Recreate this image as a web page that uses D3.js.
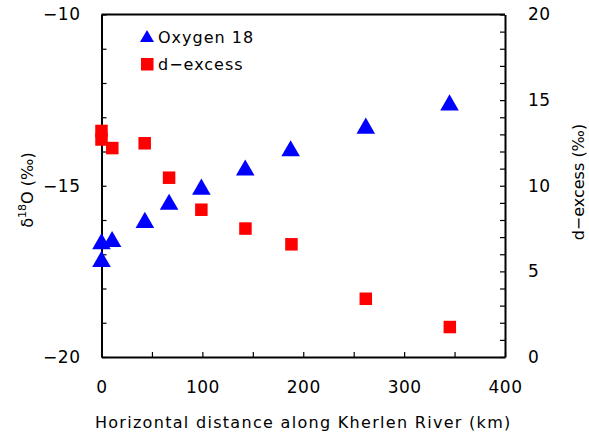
<!DOCTYPE html>
<html>
<head>
<meta charset="utf-8">
<script src="https://cdn.jsdelivr.net/npm/d3@7"></script>
<style>
  body { margin: 0; background: #fff; }
  svg text { font-family: "DejaVu Sans", sans-serif; fill: #000; }
</style>
</head>
<body>
<svg id="chart"></svg>
<script>
// distance along river (km)
const distO18 = [0, 0, 10.5, 43, 67, 99, 142.5, 187.5, 262, 345];
const o18 = [-16.65, -17.17, -16.59, -16.03, -15.5, -15.06, -14.5, -13.94, -13.28, -12.6];
const distDex = [0, 0, 10.7, 42.8, 67, 99, 142.7, 188.3, 262, 345.3];
const dExcess = [13.2, 12.7, 12.2, 12.48, 10.47, 8.6, 7.5, 6.58, 3.4, 1.75];

const xTicks = [0, 100, 200, 300, 400];
const yLeftTicks = [-20, -15, -10];
const yRightTicks = [0, 5, 10, 15, 20];

const W = 589, H = 436;
const MARGIN = {TOP: 14.5, BOTTOM: 79, LEFT: 101.5, RIGHT: 84};

const svg = d3.select("#chart").attr("width", W).attr("height", H);

const xScale = d3.scaleLinear().domain([0, 400]).range([MARGIN.LEFT, W - MARGIN.RIGHT]);
const yLeft = d3.scaleLinear().domain([-20, -10]).range([H - MARGIN.BOTTOM, MARGIN.TOP]);
const yRight = d3.scaleLinear().domain([0, 20]).range([H - MARGIN.BOTTOM, MARGIN.TOP]);

const fs = 16;
const tickFs = 17;

// bottom axis (ticks inward)
const xAxis = svg.append("g")
  .attr("transform", "translate(0," + (H - MARGIN.BOTTOM) + ")")
  .call(d3.axisBottom(xScale).tickValues(d3.range(0, 401, 50)).tickSizeInner(-5).tickSizeOuter(0)
    .tickPadding(24).tickFormat(d => xTicks.includes(d) ? d : ""));

// left axis
const yAxisL = svg.append("g")
  .attr("transform", "translate(" + MARGIN.LEFT + ",0)")
  .call(d3.axisLeft(yLeft).tickValues(d3.range(-20, -9.5, 1)).tickSizeInner(-5).tickSizeOuter(0)
    .tickPadding(21).tickFormat(d => yLeftTicks.includes(d) ? d3.format("d")(d) : ""));

// right axis
const yAxisR = svg.append("g")
  .attr("transform", "translate(" + (W - MARGIN.RIGHT) + ",0)")
  .call(d3.axisRight(yRight).tickValues(d3.range(0, 20.5, 1)).tickSizeInner(-5).tickSizeOuter(0)
    .tickPadding(23).tickFormat(d => yRightTicks.includes(d) ? d : ""));

[xAxis, yAxisL, yAxisR].forEach(g => {
  g.select(".domain").attr("stroke", "#000").attr("stroke-width", 2);
  g.selectAll(".tick line").attr("stroke", "#000").attr("stroke-width", 1.2);
  g.selectAll(".tick text").attr("font-size", tickFs).attr("font-family", "DejaVu Sans")
    .attr("letter-spacing", 0.5);
});

// top border
svg.append("line")
  .attr("x1", xScale(0)).attr("x2", xScale(400))
  .attr("y1", yLeft(-10)).attr("y2", yLeft(-10))
  .attr("stroke", "#000").attr("stroke-width", 2);

// titles
svg.append("text")
  .attr("x", (xScale(0) + xScale(400)) / 2).attr("y", 428)
  .attr("text-anchor", "middle").attr("font-size", fs).attr("letter-spacing", 1.3)
  .text("Horizontal distance along Kherlen River (km)");

const lt = svg.append("text")
  .attr("transform", "translate(33,190) rotate(-90)")
  .attr("text-anchor", "middle").attr("font-size", fs);
lt.append("tspan").text("δ");
lt.append("tspan").attr("font-size", 11).attr("dy", -7).text("18");
lt.append("tspan").attr("dy", 7).text("O (‰)");

svg.append("text")
  .attr("transform", "translate(584,182) rotate(-90)")
  .attr("text-anchor", "middle").attr("font-size", fs)
  .text("d−excess (‰)");

// markers
const tri = d3.symbol().type(d3.symbolTriangle).size(150);
svg.append("g").selectAll("path")
  .data(o18.map((v, i) => [distO18[i], v]))
  .join("path")
  .attr("d", tri)
  .attr("transform", d => "translate(" + xScale(d[0]) + "," + (yLeft(d[1]) + 1.5) + ")")
  .attr("fill", "#0000ff");

const sq = 12.5;
svg.append("g").selectAll("rect")
  .data(dExcess.map((v, i) => [distDex[i], v]))
  .join("rect")
  .attr("x", d => xScale(d[0]) - sq / 2)
  .attr("y", d => yRight(d[1]) - sq / 2)
  .attr("width", sq).attr("height", sq)
  .attr("fill", "#ff0000");

// legend
const legend = svg.append("g");
legend.append("path")
  .attr("d", d3.symbol().type(d3.symbolTriangle).size(85))
  .attr("transform", "translate(147,38)")
  .attr("fill", "#0000ff");
legend.append("text").attr("x", 158).attr("y", 43).attr("font-size", fs).attr("letter-spacing", 1).text("Oxygen 18");
legend.append("rect").attr("x", 141).attr("y", 58).attr("width", 12.5).attr("height", 12.5).attr("fill", "#ff0000");
legend.append("text").attr("x", 158).attr("y", 70).attr("font-size", fs).attr("letter-spacing", 1).text("d−excess");
</script>
</body>
</html>
